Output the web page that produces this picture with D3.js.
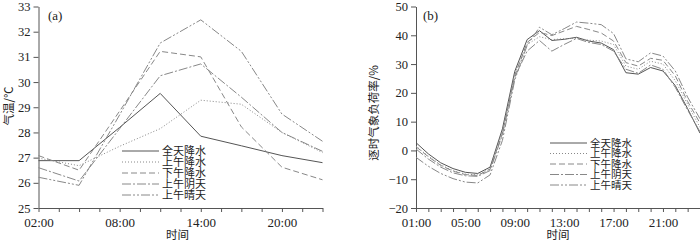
<!DOCTYPE html>
<html>
<head>
<meta charset="utf-8">
<script src="https://cdn.jsdelivr.net/npm/d3@7"></script>
<style>
  body { margin: 0; background: #fff; }
  svg text { fill: #222; }
</style>
</head>
<body>
<svg id="chart" width="700" height="243"></svg>
<script>
// ---- data ----
const seriesNames = ["全天降水", "上午降水", "下午降水", "上午阴天", "上午晴天"];

// (a) temperature, every 3 hours
const tempHours = [2, 5, 8, 11, 14, 17, 20, 23];
const tempAllDayRain = [26.88, 26.88, 28.2, 29.55, 27.85, 27.47, 27.08, 26.8];
const tempAmRain     = [26.98, 26.68, 27.45, 28.15, 29.28, 29.12, 28.0, 27.2];
const tempPmRain     = [27.08, 26.5, 28.85, 31.22, 31.0, 28.22, 26.62, 26.12];
const tempAmCloudy   = [26.6, 26.07, 28.15, 30.25, 30.72, 29.4, 28.0, 27.25];
const tempAmSunny    = [26.22, 25.9, 28.7, 31.55, 32.47, 31.22, 28.73, 27.65];
const tempTicksY = [25, 26, 27, 28, 29, 30, 31, 32, 33];
const tempTicksX = [2, 8, 14, 20];
const tempTickLabelsX = ["02:00", "08:00", "14:00", "20:00"];

// (b) hourly load rate
const loadHours = [1,2,3,4,5,6,7,8,9,10,11,12,13,14,15,16,17,18,19,20,21,22,23,24];
const loadAllDayRain = [2.7, -1.2, -4.3, -6.3, -7.6, -8.0, -5.8, 7.5, 27.5, 38.5, 41.6, 38.2, 38.6, 39.3, 38.0, 37.3, 35.0, 27.0, 26.5, 28.8, 27.6, 22.5, 14.5, 6.0];
const loadAmRain     = [1.5, -2.0, -5.0, -7.0, -8.2, -8.5, -6.3, 6.5, 26.5, 36.8, 39.5, 38.5, 38.8, 39.0, 38.3, 38.0, 36.8, 29.3, 28.2, 31.0, 30.0, 24.2, 16.0, 8.0];
const loadPmRain     = [1.3, -2.2, -5.2, -7.2, -8.4, -8.7, -6.5, 6.0, 26.0, 37.5, 41.0, 39.9, 41.5, 43.1, 42.0, 40.8, 38.0, 30.5, 29.3, 32.0, 31.3, 25.9, 17.0, 9.5];
const loadAmCloudy   = [0.5, -3.0, -5.8, -7.8, -8.8, -9.0, -7.0, 5.5, 25.5, 34.5, 38.2, 34.5, 36.8, 38.9, 37.5, 36.8, 34.5, 28.2, 26.8, 29.7, 28.2, 21.9, 14.0, 6.5];
const loadAmSunny    = [-2.4, -5.5, -8.0, -9.8, -11.0, -11.3, -8.5, 3.5, 24.5, 36.5, 42.8, 40.2, 42.3, 44.6, 44.2, 43.7, 40.6, 31.8, 30.8, 33.9, 32.8, 27.6, 18.5, 11.0];
const loadTicksY = [-20, -10, 0, 10, 20, 30, 40, 50];
const loadTicksX = [1, 5, 9, 13, 17, 21];
const loadTickLabelsX = ["01:00", "05:00", "09:00", "13:00", "17:00", "21:00"];

const dashes = [null, "1,2", "6,3", "9,2,2,2", "9,2,2,2,2,2"];
const strokes = ["#555", "#888", "#888", "#888", "#888"];

const svg = d3.select("#chart");
const serif = "'Liberation Serif', 'Times New Roman', serif";
const cjk = "'Noto Sans CJK SC', sans-serif";

function drawPanel(cfg) {
  const x = d3.scaleLinear().domain(cfg.xDomain).range(cfg.xRange);
  const y = d3.scaleLinear().domain(cfg.yDomain).range(cfg.yRange);
  const g = svg.append("g");

  // x axis: minor ticks, labels only at some
  const xAxis = d3.axisBottom(x)
    .tickValues(cfg.xMinor)
    .tickSize(4)
    .tickSizeOuter(0)
    .tickFormat(d => {
      const i = cfg.xLabelAt.indexOf(d);
      return i >= 0 ? cfg.xLabels[i] : "";
    });
  const gx = g.append("g")
    .attr("transform", `translate(0,${cfg.yRange[0]})`)
    .call(xAxis);
  gx.selectAll("text").attr("font-family", serif).attr("font-size", 13).attr("dy", "0.9em");

  const yAxis = d3.axisLeft(y)
    .tickValues(cfg.yTicks)
    .tickSize(5)
    .tickSizeOuter(0)
    .tickFormat(d => d < 0 ? "\u2212" + Math.abs(d) : d);
  const gy = g.append("g")
    .attr("transform", `translate(${cfg.xRange[0]},0)`)
    .call(yAxis);
  gy.selectAll("text").attr("font-family", serif).attr("font-size", 12.5).attr("x", -8);

  g.selectAll(".domain, .tick line").attr("stroke", "#555");

  // lines
  const line = d3.line().x((d, i) => x(cfg.hours[i])).y(d => y(d));
  cfg.series.forEach((s, k) => {
    g.append("path")
      .datum(s)
      .attr("fill", "none")
      .attr("stroke", strokes[k])
      .attr("stroke-width", 1)
      .attr("stroke-dasharray", dashes[k])
      .attr("d", line);
  });

  // legend
  seriesNames.forEach((name, k) => {
    const ly = cfg.legend.y + k * cfg.legend.step;
    g.append("line")
      .attr("x1", cfg.legend.x).attr("x2", cfg.legend.x + cfg.legend.len)
      .attr("y1", ly).attr("y2", ly)
      .attr("stroke", strokes[k])
      .attr("stroke-dasharray", dashes[k]);
    g.append("text")
      .attr("x", cfg.legend.x + cfg.legend.len + 3)
      .attr("y", ly)
      .attr("dy", "0.36em")
      .attr("font-family", cjk)
      .attr("font-size", cfg.legend.size)
      .text(name);
  });

  // panel label
  g.append("text")
    .attr("x", cfg.label.x).attr("y", cfg.label.y)
    .attr("font-family", serif).attr("font-size", 13)
    .text(cfg.label.text);

  // axis titles
  g.append("text")
    .attr("x", (cfg.xRange[0] + cfg.xRange[1]) / 2 - cfg.xTitleShift)
    .attr("y", 235).attr("dy", "0.35em")
    .attr("text-anchor", "middle")
    .attr("font-family", cjk).attr("font-size", 11.5)
    .text("时间");
  g.append("text")
    .attr("transform", `translate(${cfg.yTitle.x},${cfg.yTitle.y}) rotate(-90)`)
    .attr("text-anchor", "middle")
    .attr("dy", "0.35em")
    .attr("font-family", cjk).attr("font-size", 11.5)
    .text(cfg.yTitle.text);
}

drawPanel({
  hours: tempHours,
  series: [tempAllDayRain, tempAmRain, tempPmRain, tempAmCloudy, tempAmSunny],
  xDomain: [2, 23], xRange: [38.5, 322.5],
  yDomain: [25, 33], yRange: [208, 6.5],
  xMinor: d3.range(2, 23.01, 1.5),
  xLabelAt: tempTicksX, xLabels: tempTickLabelsX,
  yTicks: tempTicksY,
  legend: { x: 122, y: 151, step: 11, len: 37, size: 11 },
  label: { x: 48, y: 20, text: "(a)" },
  xTitleShift: 3,
  yTitle: { x: 9, y: 106, text: "气温/℃" }
});

drawPanel({
  hours: loadHours,
  series: [loadAllDayRain, loadAmRain, loadPmRain, loadAmCloudy, loadAmSunny],
  xDomain: [1, 24], xRange: [416, 700],
  yDomain: [-20, 50], yRange: [208, 6.5],
  xMinor: d3.range(1, 24.01, 1),
  xLabelAt: loadTicksX, xLabels: loadTickLabelsX,
  yTicks: loadTicksY,
  legend: { x: 550, y: 143, step: 10.5, len: 37, size: 10.5 },
  label: { x: 423, y: 20, text: "(b)" },
  xTitleShift: 0,
  yTitle: { x: 374, y: 113, text: "逐时气象负荷率/%" }
});
</script>
</body>
</html>
